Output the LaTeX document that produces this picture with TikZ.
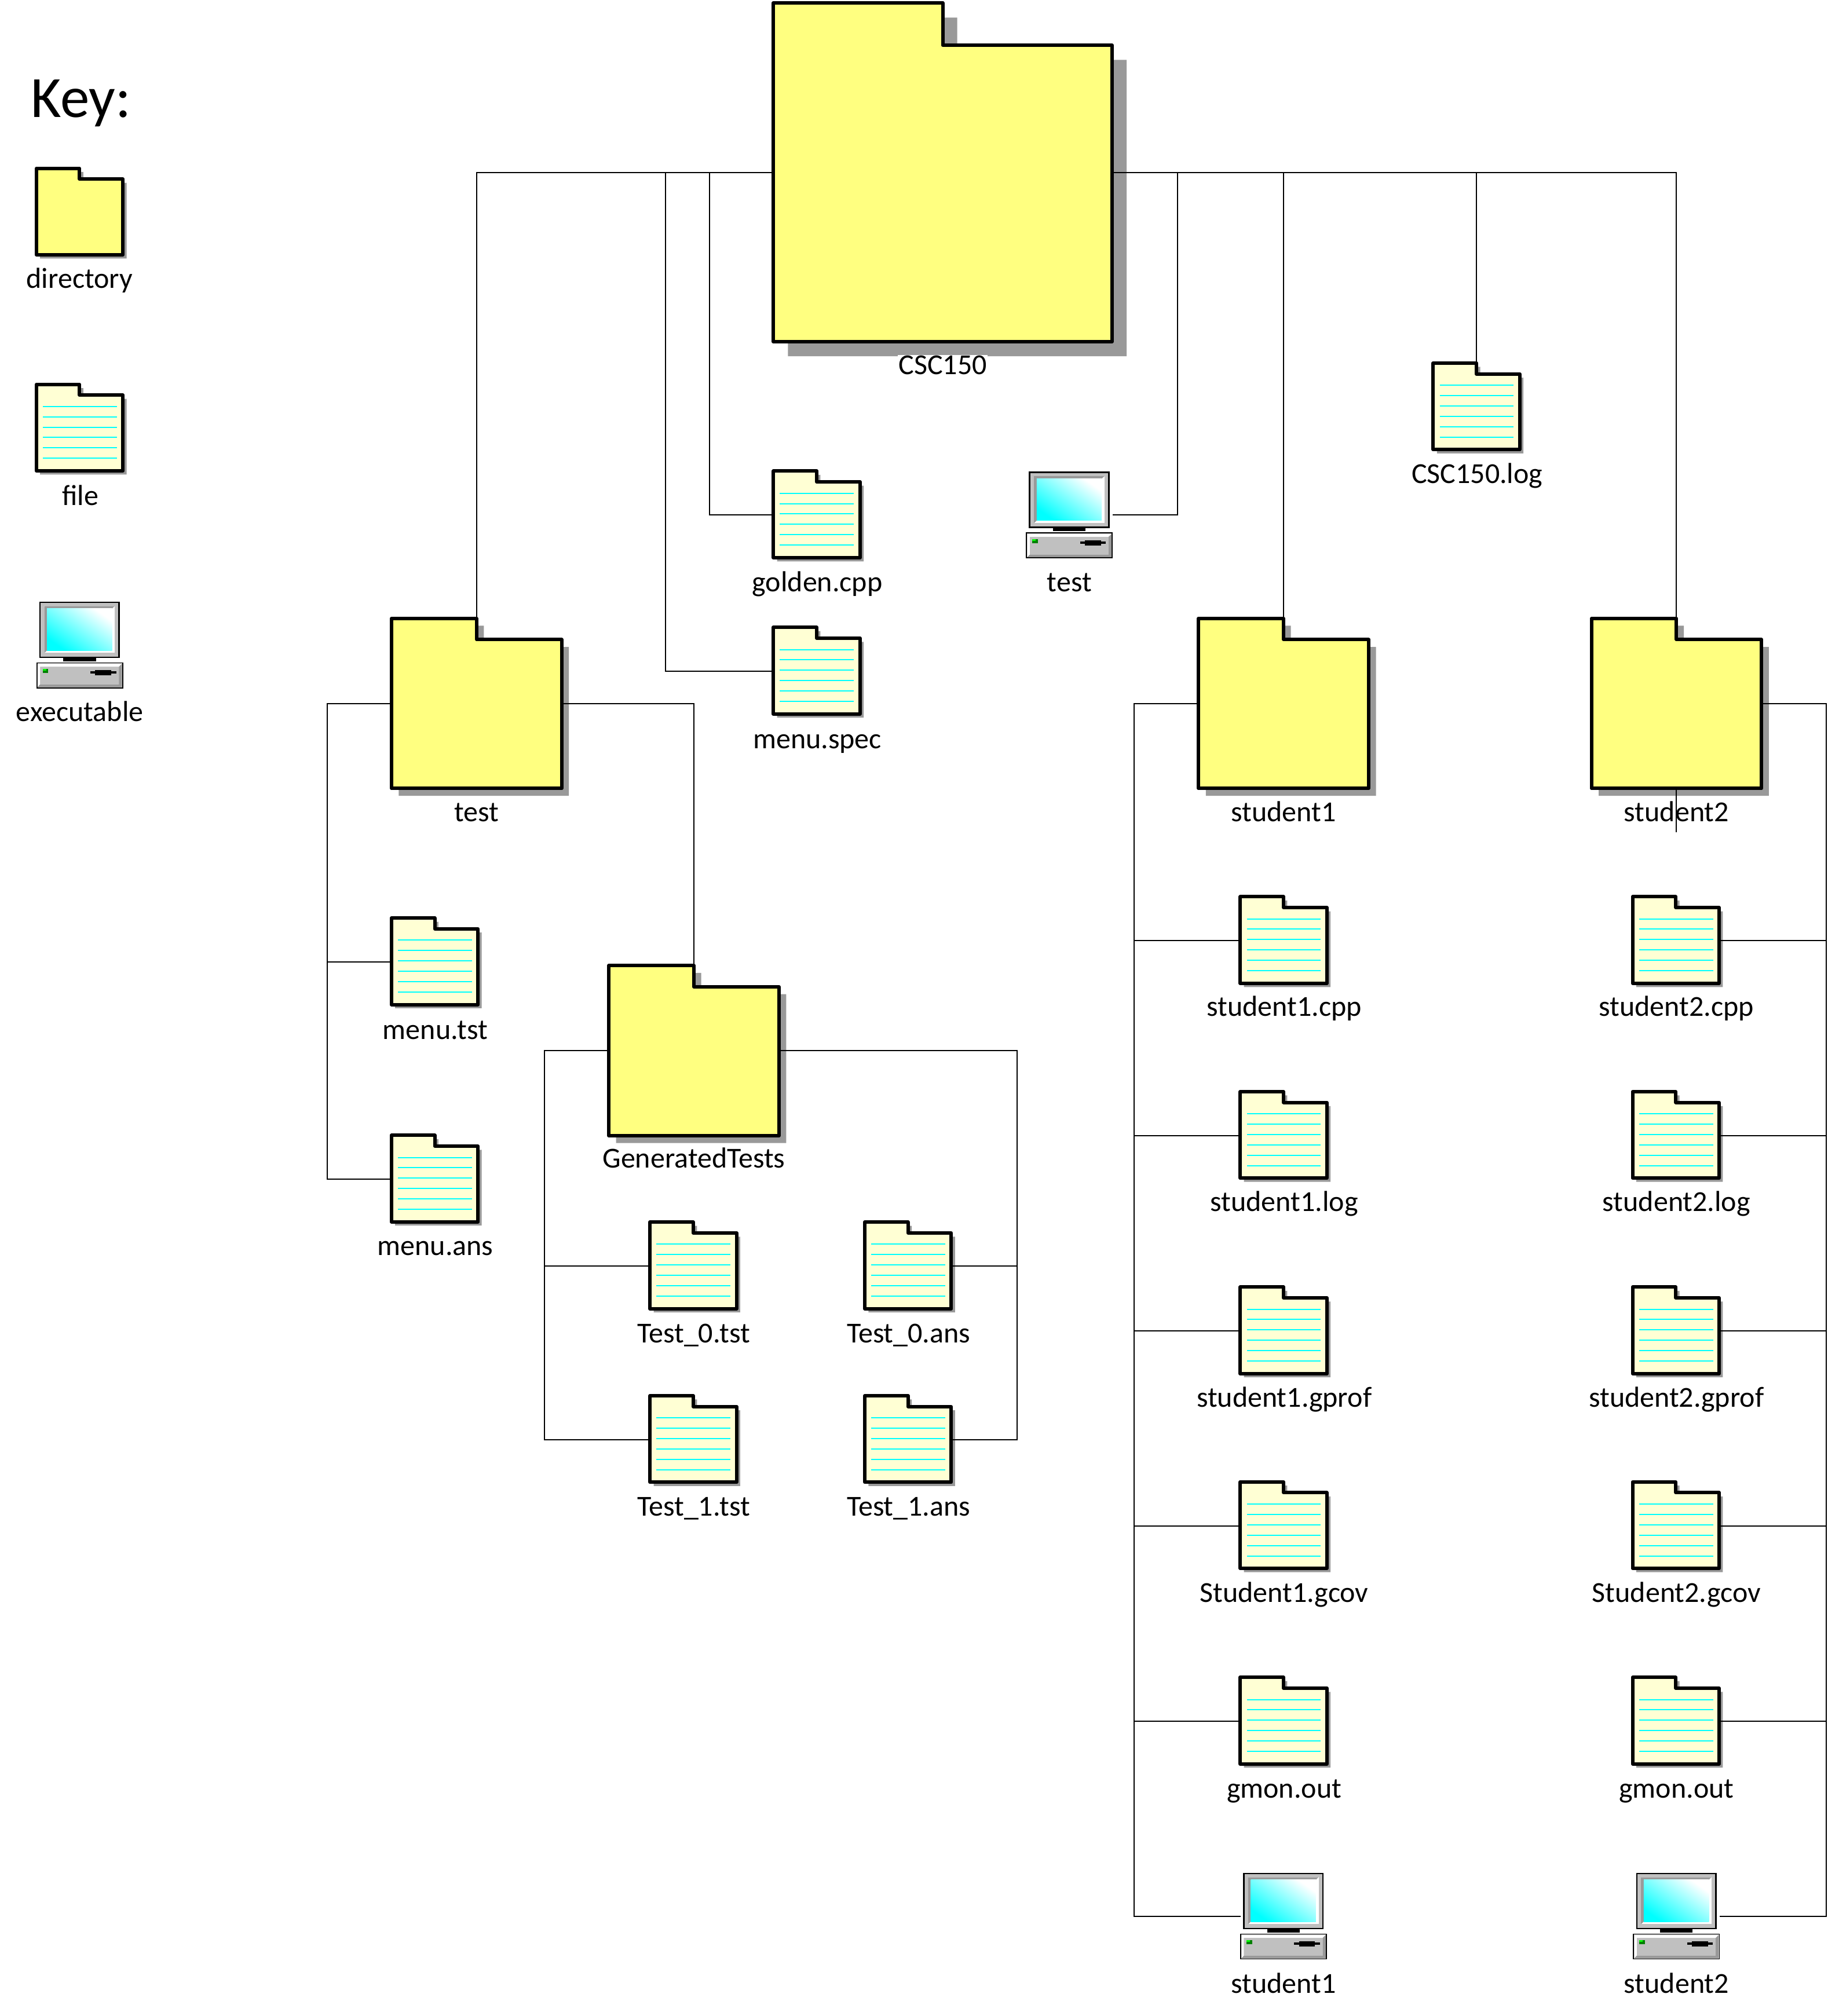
\documentclass[tikz,border=0pt]{standalone}
\usepackage{fontspec}
\setmainfont{Carlito}
\definecolor{shadowgrey}{HTML}{999999}
\definecolor{dirfill}{HTML}{FFFF80}
\definecolor{filefill}{HTML}{FFFFD4}
\definecolor{panel}{HTML}{C0C0C0}
\definecolor{ledgreen}{HTML}{008000}
\definecolor{linecyan}{RGB}{0,255,255}
\definecolor{ledlight}{RGB}{0,255,0}
\tikzset{
  x=2.2205pt,y=-2.2205pt,
  anchorbox/.style={inner sep=0pt,outer sep=0pt,rectangle},
  lab/.style={anchor=base,inner sep=1pt,fill=white,font=\fontsize{50}{60}\selectfont},
  keytext/.style={anchor=base west,inner sep=0pt,font=\fontsize{101}{120}\selectfont},
  conn/.style={line width=2pt,black},
  foldline/.style={line width=6pt,line join=round,black},
  shadowfill/.style={fill=shadowgrey},
}
\newcommand\myfoldshape{(0,0)--(.5,0)--(.5,.125)--(1,.125)--(1,1)--(0,1)--cycle}
% name, cx, cy, w, label, baseline y
\newcommand\mydir[6]{%
  \pgfmathsetmacro\myu{#4*2.2205-6}%
  \pgfmathsetmacro\myw{#4*2.2205}%
  \node[anchorbox,minimum width=\myw pt,minimum height=\myw pt] (#1) at (#2,#3) {};
  \begin{scope}[shift={(#2-#4/2+1.35,#3-#4/2+1.35)},x=\myu pt,y=-\myu pt]
    \fill[shadowfill,shift={(.043,.043)}] \myfoldshape;
    \filldraw[foldline,fill=dirfill] \myfoldshape;
  \end{scope}
  \node[lab] (#1-label) at (#2,#6) {#5};
}
% name, cx, cy, label, baseline y
\newcommand\myfile[5]{%
  \pgfmathsetmacro\myu{70*2.2205-6}%
  \node[anchorbox,minimum width=155.4pt,minimum height=155.4pt] (#1) at (#2-.5,#3) {};
  \begin{scope}[shift={(#2-35.5+1.35,#3-35.5+1.35)},x=\myu pt,y=-\myu pt]
    \fill[shadowfill,shift={(.043,.043)}] \myfoldshape;
    \filldraw[foldline,fill=filefill] \myfoldshape;
    \foreach \ly in {.256,.375,.495,.615,.735,.855}
      \draw[linecyan,line width=2pt] (.075,\ly) -- (.93,\ly);
  \end{scope}
  \node[lab] (#1-label) at (#2,#5) {#4};
}
\newcommand\myexe[5]{%
  \node[anchorbox,minimum width=149pt,minimum height=149pt] (#1) at (#2,#3) {};
  \begin{scope}[shift={(#2-33.55,#3-33.55)},x=149pt,y=-149pt]
    \filldraw[fill=panel,draw=black,line width=2.7pt] (.04,.006) rectangle (.957,.644);
    \fill[white] (.089,.049) rectangle (.906,.593);
    \fill[shadowgrey] (.089,.049)--(.906,.049)--(.875,.078)--(.121,.078)--(.121,.564)--(.089,.593)--cycle;
    \shade[shading=axis,left color=white,right color=linecyan,shading angle=-35] (.121,.078) rectangle (.875,.564);
    \fill[black] (.309,.644) rectangle (.687,.689);
    \filldraw[fill=panel,draw=black,line width=1.8pt] (.003,.708) rectangle (.997,.997);
    \fill[white] (.012,.72)--(.988,.72)--(.955,.752)--(.04,.752)--(.04,.96)--(.012,.988)--cycle;
    \fill[shadowgrey] (.988,.72)--(.988,.988)--(.012,.988)--(.04,.96)--(.955,.96)--(.955,.752)--cycle;
    \fill[ledgreen] (.071,.777) rectangle (.134,.824);
    \fill[ledlight] (.071,.777) rectangle (.11,.80);
    \fill[black] (.622,.805) rectangle (.922,.835);
    \fill[black] (.68,.793) rectangle (.864,.854);
  \end{scope}
  \node[lab] (#1-label) at (#2,#5) {#4};
}
\begin{document}
\begin{tikzpicture}
\useasboundingbox (0,0) rectangle (1421.3,1567.7);
\node[keytext] (key) at (24,91) {Key:};
\mydir{keydir}{61.9}{164.5}{70}{directory}{224}
\myfile{keyfile}{62.4}{333}{file}{393}
\myexe{keyexe}{62}{501.5}{executable}{561}

\mydir{csc}{733}{134}{266}{CSC150}{291}
\myfile{golden}{635.5}{400.5}{golden.cpp}{460}
\myfile{spec}{635.5}{522}{menu.spec}{582}
\myexe{texe}{831.5}{400.5}{test}{460}
\myfile{csclog}{1148.5}{316.5}{CSC150.log}{376}

\mydir{test}{370.5}{547}{135}{test}{639}
\myfile{mtst}{338.5}{748}{menu.tst}{808}
\myfile{mans}{338.5}{917}{menu.ans}{976}
\mydir{gen}{539.5}{817}{135}{GeneratedTests}{908}
\myfile{t0t}{539.5}{984.5}{Test\_0.tst}{1044}
\myfile{t1t}{539.5}{1119.5}{Test\_1.tst}{1179}
\myfile{t0a}{706.5}{984.5}{Test\_0.ans}{1044}
\myfile{t1a}{706.5}{1119.5}{Test\_1.ans}{1179}

\mydir{sa}{998}{547}{135}{student1}{639}
\myfile{sacpp}{998.5}{731.5}{student1.cpp}{790}
\myfile{salog}{998.5}{883}{student1.log}{942}
\myfile{sagprof}{998.5}{1035}{student1.gprof}{1094}
\myfile{sagcov}{998.5}{1186.5}{Student1.gcov}{1246}
\myfile{samon}{998.5}{1338.5}{gmon.out}{1398}
\myexe{saexe}{998}{1490}{student1}{1550}

\mydir{sb}{1303.5}{547}{135}{student2}{639}
\myfile{sbcpp}{1303.5}{731.5}{student2.cpp}{790}
\myfile{sblog}{1303.5}{883}{student2.log}{942}
\myfile{sbgprof}{1303.5}{1035}{student2.gprof}{1094}
\myfile{sbgcov}{1303.5}{1186.5}{Student2.gcov}{1246}
\myfile{sbmon}{1303.5}{1338.5}{gmon.out}{1398}
\myexe{sbexe}{1303.5}{1490}{student2}{1550}

% junctions
\coordinate (jspec) at (517.5,134);
\coordinate (jgold) at (551.5,134);
\coordinate (jexe) at (915.5,134);
\coordinate (jtestl) at (254.5,547);
\coordinate (jgenl) at (423.5,817);
\coordinate (jgenr) at (791,817);
\coordinate (jsa) at (882,547);
\coordinate (jsb) at (1420,547);
\coordinate (sbend) at (1303.5,647);

\draw[conn] (csc.west) -| (test.north);
\draw[conn] (jspec) |- (spec.west);
\draw[conn] (jgold) |- (golden.west);
\draw[conn] (csc.east) -| (sb.north);
\draw[conn] (jexe) |- (texe.east);
\draw[conn] (sa.north) |- (csc.east);
\draw[conn] (csclog.north) |- (csc.east);
\draw[conn] (sb.south) -- (sbend);

\draw[conn] (test.west) -- (jtestl) |- (mans.west);
\draw[conn] (mtst.west) -- (mtst.west -| jtestl);
\draw[conn] (test.east) -| (gen.north);

\draw[conn] (gen.west) -- (jgenl) |- (t1t.west);
\draw[conn] (t0t.west) -- (t0t.west -| jgenl);
\draw[conn] (gen.east) -- (jgenr) |- (t1a.east);
\draw[conn] (t0a.east) -- (t0a.east -| jgenr);

\draw[conn] (sa.west) -- (jsa) |- (saexe.west);
\foreach \n in {sacpp,salog,sagprof,sagcov,samon}
  \draw[conn] (\n.west) -- (\n.west -| jsa);
\draw[conn] (sb.east) -- (jsb) |- (sbexe.east);
\foreach \n in {sbcpp,sblog,sbgprof,sbgcov,sbmon}
  \draw[conn] (\n.east) -- (\n.east -| jsb);
\end{tikzpicture}
\end{document}
